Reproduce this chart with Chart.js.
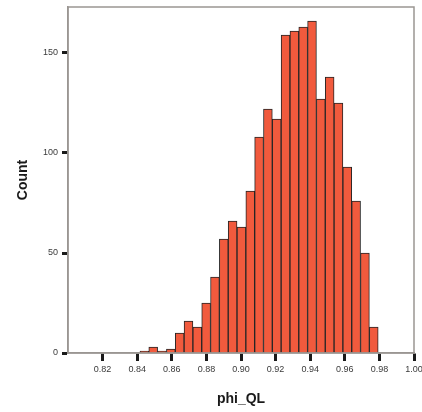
<!DOCTYPE html>
<html lang="en">
<head>
    <meta charset="UTF-8">
    <title>phi_QL histogram</title>
    <style>
        html, body {
            margin: 0;
            padding: 0;
            background: #ffffff;
        }
        #wrap {
            width: 422px;
            height: 412px;
        }
    </style>
    <script src="https://cdn.jsdelivr.net/npm/chart.js"></script>
</head>
<body>
    <div id="wrap"><canvas id="histChart" width="422" height="412"></canvas></div>

    <script>
        // Histogram bins: first lower edge and width, then counts per bin
        const binStart = 0.8416;
        const binWidth = 0.0051;
        const binCounts = [1, 3, 1, 2, 10, 16, 13, 25, 38, 57, 66, 63, 81, 108, 122, 117, 159, 161, 163, 166, 127, 138, 125, 93, 76, 50, 13];
        const xTickValues = [0.82, 0.84, 0.86, 0.88, 0.90, 0.92, 0.94, 0.96, 0.98, 1.00];
        const yTickValues = [0, 50, 100, 150];

        const points = binCounts.map((c, i) => ({ x: binStart + (i + 0.5) * binWidth, y: c }));

        const frameColor = '#9a9692';

        // Grey frame round the plot area
        const frame = {
            id: 'frame',
            afterDraw(chart) {
                const a = chart.chartArea;
                const ctx = chart.ctx;
                ctx.save();
                ctx.strokeStyle = frameColor;
                ctx.lineWidth = 1.5;
                ctx.strokeRect(a.left, a.top, a.right - a.left, a.bottom - a.top);
                ctx.restore();
            }
        };

        const tickFont = { family: 'Liberation Sans, Arial, sans-serif', size: 9 };
        const titleFont = { family: 'Liberation Sans, Arial, sans-serif', size: 14, weight: 'bold' };

        new Chart(document.getElementById('histChart').getContext('2d'), {
            type: 'bar',
            data: {
                datasets: [{
                    data: points,
                    backgroundColor: '#f15a3d',
                    borderColor: '#262626',
                    borderWidth: 1,
                    barPercentage: 1,
                    categoryPercentage: 1
                }]
            },
            options: {
                responsive: false,
                animation: false,
                layout: { padding: { left: 0, top: 7, right: 8, bottom: 0 } },
                plugins: {
                    legend: { display: false },
                    tooltip: { enabled: false }
                },
                scales: {
                    x: {
                        type: 'linear',
                        min: 0.80,
                        max: 1.00,
                        offset: false,
                        afterBuildTicks: scale => {
                            scale.ticks = xTickValues.map(v => ({ value: v }));
                        },
                        afterFit: scale => {
                            scale.height = 59;
                            // let the layout padding alone decide the side margins
                            scale.paddingLeft = 0;
                            scale.paddingRight = 0;
                        },
                        ticks: {
                            font: tickFont,
                            color: '#3a3a3a',
                            padding: 3,
                            maxRotation: 0,
                            callback: v => v.toFixed(2)
                        },
                        grid: {
                            offset: false,
                            drawOnChartArea: false,
                            tickLength: 8,
                            tickWidth: 3,
                            tickColor: '#1a1a1a'
                        },
                        border: { color: frameColor, width: 1.5 },
                        title: {
                            display: true,
                            text: 'phi_QL',
                            font: titleFont,
                            color: '#1a1a1a',
                            padding: { top: 0, bottom: 4 }
                        }
                    },
                    y: {
                        min: 0,
                        max: 173,
                        afterBuildTicks: scale => {
                            scale.ticks = yTickValues.map(v => ({ value: v }));
                        },
                        afterFit: scale => {
                            scale.width = 68;
                            scale.paddingTop = 0;
                            scale.paddingBottom = 0;
                        },
                        ticks: {
                            font: tickFont,
                            color: '#3a3a3a',
                            padding: 4
                        },
                        grid: {
                            drawOnChartArea: false,
                            tickLength: 6,
                            tickWidth: 3,
                            tickColor: '#1a1a1a'
                        },
                        border: { color: frameColor, width: 1.5 },
                        title: {
                            display: true,
                            text: 'Count',
                            font: titleFont,
                            color: '#1a1a1a',
                            padding: { top: 15, bottom: 0 }
                        }
                    }
                }
            },
            plugins: [frame]
        });
    </script>
</body>
</html>
